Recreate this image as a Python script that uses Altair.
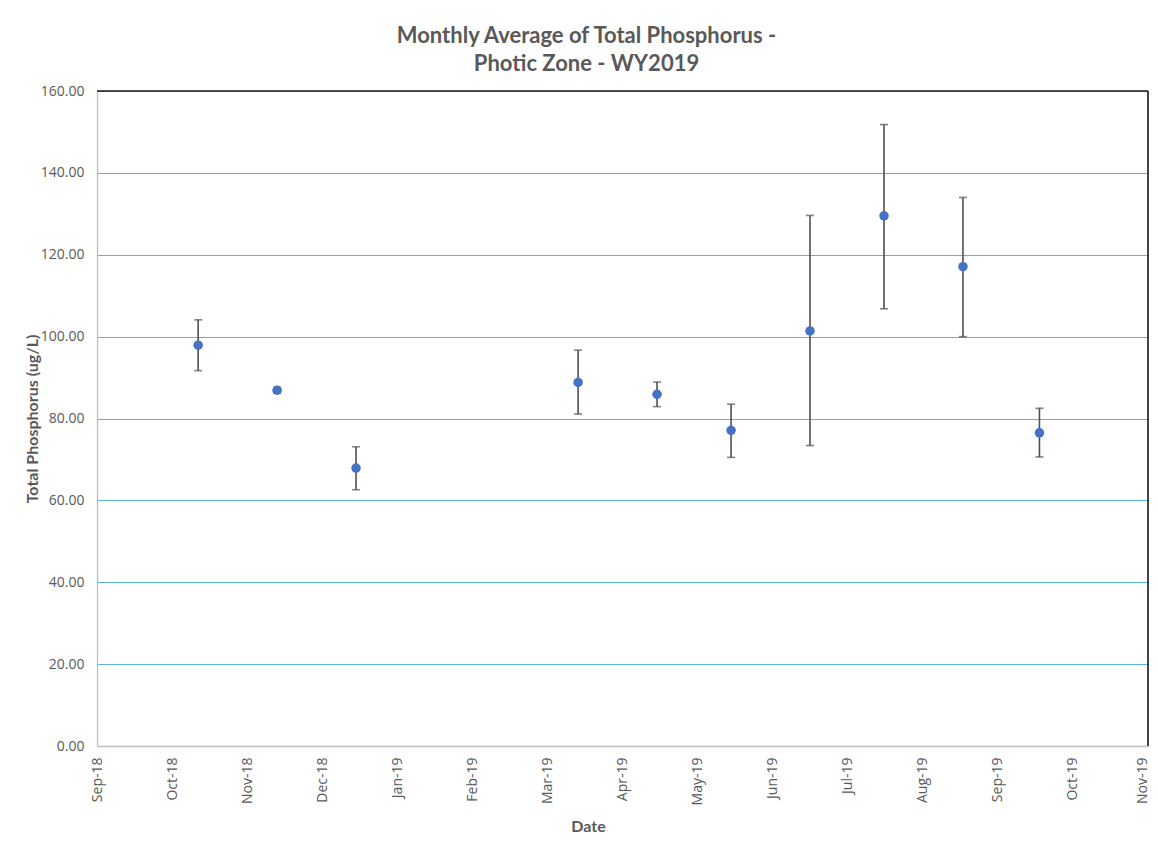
import altair as alt
import pandas as pd

# ---- data ----
dates = ["2018-10-12", "2018-11-13", "2018-12-15", "2019-03-15", "2019-04-16",
         "2019-05-16", "2019-06-17", "2019-07-17", "2019-08-18", "2019-09-18"]
means = [97.9, 86.9, 67.9, 88.8, 85.9, 77.1, 101.4, 129.5, 117.1, 76.5]
lows = [91.7, 86.2, 62.6, 81.1, 82.9, 70.5, 73.4, 106.8, 100.0, 70.6]
highs = [104.1, 87.6, 73.1, 96.7, 88.9, 83.5, 129.6, 151.8, 134.0, 82.5]
month_labels = ["Sep-18", "Oct-18", "Nov-18", "Dec-18", "Jan-19", "Feb-19", "Mar-19",
                "Apr-19", "May-19", "Jun-19", "Jul-19", "Aug-19", "Sep-19", "Oct-19", "Nov-19"]
y_ticks = [0, 20, 40, 60, 80, 100, 120, 140, 160]

axis_start = pd.Timestamp("2018-09-01")
axis_end = pd.Timestamp("2019-11-01")
span = (axis_end - axis_start).days
n_int = len(month_labels) - 1

df = pd.DataFrame({
    "date": dates,
    "day": [(pd.Timestamp(d) - axis_start).days for d in dates],
    "mean": means,
    "lo": lows,
    "hi": highs,
})

W, H = 1051, 655
GRAY = "#595959"

label_array = "[" + ",".join("'" + m + "'" for m in month_labels) + "]"
x_values = [span * k / n_int for k in range(n_int + 1)]

x_enc = alt.X(
    "day:Q",
    scale=alt.Scale(domain=[0, span], nice=False, zero=False),
    axis=alt.Axis(
        values=x_values,
        labelExpr=label_array + "[round(datum.value*" + str(n_int) + "/" + str(span) + ")]",
        labelAngle=270,
        labelAlign="right",
        labelBaseline="middle",
        labelPadding=11,
        labelOffset={"condition": {"test": "datum.value > " + str(span - 1), "value": -6}, "value": 0},
        labelFont="Open Sans",
        labelFontSize=14,
        labelColor=GRAY,
        ticks=False,
        grid=False,
        domainColor="#BFBFBF",
        domainWidth=1.3,
        title="Date",
        titleFont="Lato",
        titleFontSize=16,
        titleFontWeight="bold",
        titleColor=GRAY,
        titleX=491,
        titleY=80,
        titleAlign="center",
        titleBaseline="middle",
        labelOverlap=False,
        labelFlush=False,
    ),
)

y_scale = alt.Scale(domain=[0, 160], nice=False)
y_axis = alt.Axis(
    values=y_ticks,
    format=".2f",
    labelFont="Open Sans",
    labelFontSize=14,
    labelColor=GRAY,
    labelPadding=13,
    ticks=False,
    gridColor="#56B6E3",
    gridWidth=1.2,
    domainColor="#BFBFBF",
    domainWidth=1.3,
    title="Total Phosphorus (ug/L)",
    titleFont="Lato",
    titleFontSize=16,
    titleFontWeight="bold",
    titleColor=GRAY,
    titleX=-65,
    titleY=H / 2,
    titleAlign="center",
    titleBaseline="middle",
    titleAngle=270,
)

base = alt.Chart(df)

bars = base.mark_rule(color="#505050", strokeWidth=1.6).encode(
    x=x_enc,
    y=alt.Y("lo:Q", scale=y_scale, axis=y_axis),
    y2="hi:Q",
)
cap_lo = base.mark_tick(color="#505050", orient="horizontal", size=8, thickness=1.6).encode(
    x="day:Q", y="lo:Q")
cap_hi = base.mark_tick(color="#505050", orient="horizontal", size=8, thickness=1.6).encode(
    x="day:Q", y="hi:Q")
points = base.mark_circle(color="#4472C4", opacity=1, size=90).encode(
    x="day:Q", y="mean:Q",
    tooltip=["date:N", "mean:Q", "lo:Q", "hi:Q"],
)

frame_src = pd.DataFrame({"k": [0]})
top_line = alt.Chart(frame_src).mark_rule(color="#1A1A1A", strokeWidth=1.6).encode(
    x=alt.value(0), x2=alt.value(W), y=alt.value(0))
right_line = alt.Chart(frame_src).mark_rule(color="#1A1A1A", strokeWidth=1.6).encode(
    x=alt.value(W), y=alt.value(0), y2=alt.value(H))

chart = alt.layer(bars, cap_lo, cap_hi, points, top_line, right_line).properties(
    width=W,
    height=H,
    title=alt.TitleParams(
        text=["Monthly Average of Total Phosphorus -", "Photic Zone - WY2019"],
        font="Lato",
        fontSize=22,
        fontWeight="bold",
        color=GRAY,
        anchor="middle",
        dx=-36,
        lineHeight=28,
        offset=8,
    ),
    autosize=alt.AutoSizeParams(type="none"),
    padding={"left": 89, "top": 83, "right": 2, "bottom": 88},
).configure_view(stroke=None).configure(background="white")

chart.save("out.html", embed_options={"renderer": "svg", "actions": False})
